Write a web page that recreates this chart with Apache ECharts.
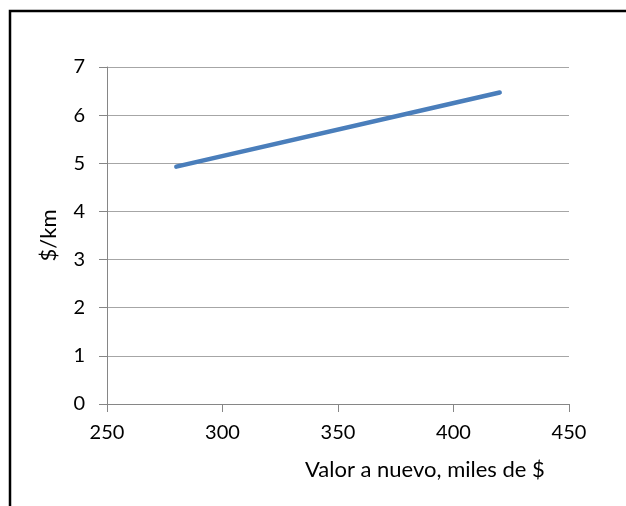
<!DOCTYPE html>
<html>
<head>
<meta charset="utf-8">
<script src="https://cdn.jsdelivr.net/npm/echarts@6/dist/echarts.min.js"></script>
<style>
html,body{margin:0;padding:0;background:#fff;}
#c{width:626px;height:506px;}
</style>
</head>
<body>
<div id="c"></div>
<script>
var xValues = [280, 420];
var yValues = [4.93, 6.47];
var xTitle = 'Valor a nuevo, miles de $';
var yTitle = '$/km';

var chart = echarts.init(document.getElementById('c'), null, {renderer: 'canvas'});
var data = xValues.map(function (x, i) { return [x, yValues[i]]; });
var font = 'Lato';
chart.setOption({
  animation: false,
  backgroundColor: '#fff',
  grid: {left: 107, right: 57, top: 67, bottom: 102},
  graphic: [
    {type: 'rect', shape: {x: 10, y: 11, width: 700, height: 600},
     style: {fill: 'none', stroke: '#000', lineWidth: 2.5}, z: -1},
    {type: 'text', x: 305, y: 470,
     style: {text: xTitle, font: '22px Lato', fill: '#000', textAlign: 'left', textVerticalAlign: 'middle'}}
  ],
  xAxis: {
    type: 'value', min: 250, max: 450, interval: 50,
    axisLine: {show: true, lineStyle: {color: '#868686', width: 1}},
    axisTick: {show: true, length: 8, lineStyle: {color: '#868686'}},
    axisLabel: {margin: 19, color: '#000', fontFamily: font, fontSize: 20},
    splitLine: {show: false}
  },
  yAxis: {
    type: 'value', min: 0, max: 7, interval: 1,
    name: yTitle, nameLocation: 'middle', nameGap: 47, nameRotate: 90,
    nameTextStyle: {color: '#000', fontFamily: font, fontSize: 22},
    axisLine: {show: true, lineStyle: {color: '#868686', width: 1}},
    axisTick: {show: true, length: 8, lineStyle: {color: '#868686'}},
    axisLabel: {margin: 22, color: '#000', fontFamily: font, fontSize: 20},
    splitLine: {show: true, lineStyle: {color: '#a6a6a6', width: 1}}
  },
  series: [{
    type: 'line', data: data, symbol: 'none',
    lineStyle: {color: '#4a7ebb', width: 4.5, cap: 'round'}
  }]
});
</script>
</body>
</html>
